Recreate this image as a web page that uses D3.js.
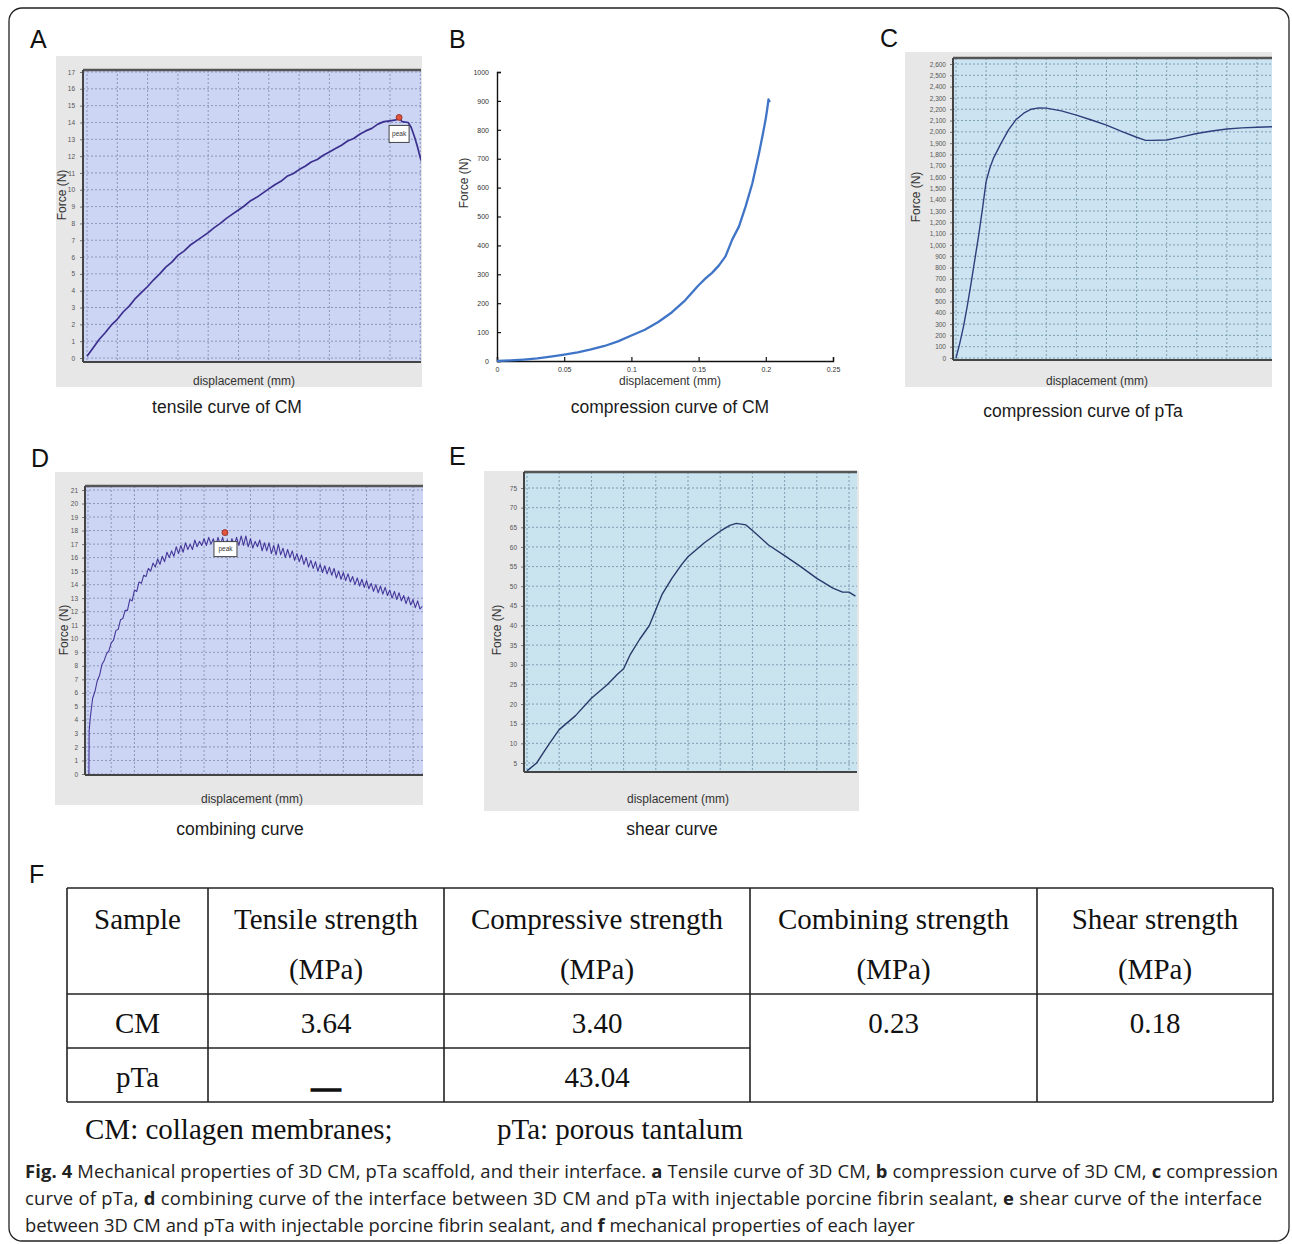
<!DOCTYPE html>
<html>
<head>
<meta charset="utf-8">
<script src="https://cdnjs.cloudflare.com/ajax/libs/d3/7.8.5/d3.min.js"></script>
<style>
  body { margin: 0; background: #fff; }
  svg { display: block; }
</style>
</head>
<body>
<svg id="fig" width="1292" height="1244"></svg>
<script>
// ---- data: [displacement (mm), force (N)] ----
var tensileCM = [[0,0.1],[0.1,0.6],[0.2,1.1],[0.3,1.5],[0.4,1.95],[0.5,2.3],[0.6,2.75],[0.7,3.1],[0.8,3.55],[0.9,3.9],
  [1.0,4.25],[1.1,4.65],[1.2,5.0],[1.3,5.4],[1.4,5.7],[1.5,6.1],[1.6,6.35],[1.7,6.7],[1.8,6.95],[1.9,7.2],
  [2.0,7.45],[2.1,7.75],[2.2,8.0],[2.3,8.3],[2.4,8.55],[2.5,8.8],[2.6,9.05],[2.7,9.35],[2.8,9.55],[2.9,9.8],
  [3.0,10.05],[3.1,10.3],[3.2,10.5],[3.3,10.8],[3.4,10.95],[3.5,11.2],[3.6,11.4],[3.7,11.65],[3.8,11.8],[3.9,12.05],
  [4.0,12.25],[4.1,12.45],[4.2,12.65],[4.3,12.9],[4.4,13.05],[4.5,13.3],[4.6,13.5],[4.7,13.65],[4.8,13.9],[4.9,14.05],
  [5.0,14.1],[5.1,14.15],[5.15,14.3],[5.2,14.05],[5.3,14.0],[5.35,13.7],[5.4,13.2],[5.45,12.6],[5.5,11.9],[5.53,11.6]];
var tensilePeak = [5.15, 14.3];

var compressionCM = [[0,0],[0.01,2],[0.02,5],[0.03,9],[0.04,15],[0.05,22],[0.06,30],[0.07,40],[0.08,52],[0.09,68],
  [0.1,88],[0.11,108],[0.12,135],[0.13,168],[0.14,210],[0.15,262],[0.155,285],[0.16,305],[0.165,330],[0.17,362],
  [0.175,420],[0.18,465],[0.185,535],[0.19,615],[0.195,720],[0.198,790],[0.2,840],[0.201,870],[0.202,905],[0.203,895]];

var compressionPTa = [[0,0],[0.025,130],[0.05,280],[0.075,460],[0.1,660],[0.125,870],[0.15,1080],[0.175,1310],
  [0.2,1560],[0.225,1680],[0.25,1770],[0.3,1900],[0.35,2020],[0.4,2110],[0.45,2165],[0.5,2200],[0.55,2212],[0.6,2210],
  [0.7,2185],[0.8,2148],[0.9,2105],[1.0,2060],[1.1,2005],[1.2,1952],[1.26,1925],[1.3,1925],[1.4,1928],[1.5,1955],
  [1.6,1985],[1.7,2008],[1.8,2025],[1.9,2035],[2.0,2040],[2.1,2045]];

var combining = [[0,0],[0.004,0],[0.005,3.2],[0.01,4.2],[0.02,5.6],[0.03,6.1],[0.04,6.9],[0.05,7.3],[0.06,8.1],[0.07,8.4],
  [0.08,8.9],[0.09,9.1],[0.10,9.7],[0.11,9.9],[0.12,10.6],[0.13,10.7],[0.14,11.4],[0.15,11.5],[0.16,12.1],[0.17,12.1],
  [0.18,12.9],[0.19,12.8],[0.20,13.6],[0.21,13.5],[0.22,14.2],[0.23,14.1],[0.24,14.7],[0.25,14.6],[0.26,15.2],[0.27,15.0],
  [0.28,15.6],[0.29,15.3],[0.30,15.9],[0.31,15.5],[0.32,16.1],[0.33,15.7],[0.34,16.4],[0.35,16.0],[0.36,16.5],[0.37,16.1],
  [0.38,16.8],[0.39,16.3],[0.40,16.9],[0.41,16.4],[0.42,17.1],[0.43,16.6],[0.44,17.0],[0.45,16.6],[0.46,17.3],[0.47,16.8],
  [0.48,17.2],[0.49,16.9],[0.50,17.4],[0.51,16.9],[0.52,17.5],[0.53,17.0],[0.54,17.4],[0.55,16.8],[0.56,17.5],[0.57,16.9],
  [0.58,17.5],[0.59,16.8],[0.60,17.3],[0.61,16.8],[0.62,17.4],[0.63,16.9],[0.64,17.5],[0.65,16.9],[0.66,17.6],[0.67,16.9],
  [0.68,17.6],[0.69,16.8],[0.70,17.4],[0.71,16.7],[0.72,17.2],[0.73,16.8],[0.74,17.3],[0.75,16.5],[0.76,17.1],[0.77,16.5],
  [0.78,17.1],[0.79,16.3],[0.80,16.9],[0.81,16.2],[0.82,17.0],[0.83,16.2],[0.84,16.7],[0.85,16.0],[0.86,16.6],[0.87,16.0],
  [0.88,16.5],[0.89,15.8],[0.90,16.3],[0.91,15.7],[0.92,16.2],[0.93,15.5],[0.94,16.0],[0.95,15.3],[0.96,15.8],[0.97,15.2],
  [0.98,15.7],[0.99,15.0],[1.00,15.5],[1.01,14.9],[1.02,15.4],[1.03,14.8],[1.04,15.3],[1.05,14.7],[1.06,15.2],[1.07,14.5],
  [1.08,15.0],[1.09,14.4],[1.10,14.9],[1.11,14.3],[1.12,14.8],[1.13,14.2],[1.14,14.6],[1.15,14.0],[1.16,14.5],[1.17,13.9],
  [1.18,14.4],[1.19,13.8],[1.20,14.3],[1.21,13.7],[1.22,14.1],[1.23,13.5],[1.24,14.0],[1.25,13.4],[1.26,13.9],[1.27,13.3],
  [1.28,13.8],[1.29,13.2],[1.30,13.6],[1.31,13.0],[1.32,13.5],[1.33,12.9],[1.34,13.4],[1.35,12.8],[1.36,13.2],[1.37,12.6],
  [1.38,13.1],[1.39,12.5],[1.40,12.9],[1.41,12.3],[1.42,12.8],[1.43,12.2],[1.44,12.4]];
var combiningPeak = [0.59, 17.85];

var shear = [[0,3],[0.03,5],[0.05,7.5],[0.07,10],[0.1,13.5],[0.15,17],[0.2,21.5],[0.25,25],[0.28,27.5],[0.3,29],
  [0.32,32.5],[0.35,36.5],[0.38,40],[0.4,44],[0.42,48],[0.45,52],[0.48,55.5],[0.5,57.5],[0.55,61],[0.6,64],
  [0.63,65.5],[0.65,66],[0.68,65.6],[0.7,64.2],[0.75,60.5],[0.8,57.8],[0.85,55],[0.9,52],[0.95,49.5],[0.98,48.5],
  [1.0,48.5],[1.02,47.5]];

// tick values
var ticksA_x = [0,0.5,1,1.5,2,2.5,3,3.5,4,4.5,5,5.5];
var ticksA_y = [0,1,2,3,4,5,6,7,8,9,10,11,12,13,14,15,16,17];
var ticksB_x = [0,0.05,0.1,0.15,0.2,0.25];
var ticksB_y = [0,100,200,300,400,500,600,700,800,900,1000];
var ticksC_x = [0,0.2,0.4,0.6,0.8,1,1.2,1.4,1.6,1.8,2];
var ticksC_y = [0,100,200,300,400,500,600,700,800,900,1000,1100,1200,1300,1400,1500,1600,1700,1800,1900,2000,2100,2200,2300,2400,2500,2600];
var ticksD_x = [0,0.1,0.2,0.3,0.4,0.5,0.6,0.7,0.8,0.9,1,1.1,1.2,1.3,1.4];
var ticksD_y = [0,1,2,3,4,5,6,7,8,9,10,11,12,13,14,15,16,17,18,19,20,21];
var ticksE_x = [0,0.1,0.2,0.3,0.4,0.5,0.6,0.7,0.8,0.9,1];
var ticksE_y = [5,10,15,20,25,30,35,40,45,50,55,60,65,70,75];

// table F
var tableHead1 = ["Sample", "Tensile strength", "Compressive strength", "Combining strength", "Shear strength"];
var tableHead2 = ["", "(MPa)", "(MPa)", "(MPa)", "(MPa)"];
var tableRowCM = ["CM", "3.64", "3.40", "0.23", "0.18"];
var tableRowPTa = ["pTa", "\u2014", "43.04", "", ""];
var tableNotes = ["CM: collagen membranes;", "pTa: porous tantalum"];

var captionLines = [
  [["Fig. 4", 1], [" Mechanical properties of 3D CM, pTa scaffold, and their interface. ", 0], ["a", 1], [" Tensile curve of 3D CM, ", 0], ["b", 1], [" compression curve of 3D CM, ", 0], ["c", 1], [" compression", 0]],
  [["curve of pTa, ", 0], ["d", 1], [" combining curve of the interface between 3D CM and pTa with injectable porcine fibrin sealant, ", 0], ["e", 1], [" shear curve of the interface", 0]],
  [["between 3D CM and pTa with injectable porcine fibrin sealant, and ", 0], ["f", 1], [" mechanical properties of each layer", 0]]
];

var SANS = "'Liberation Sans', Arial, sans-serif";
var SERIF = "'Liberation Serif', 'Times New Roman', serif";

var svg = d3.select("#fig");

// outer rounded frame
svg.append("rect").attr("x", 9).attr("y", 8).attr("width", 1280).attr("height", 1233)
  .attr("rx", 13).attr("fill", "none").attr("stroke", "#222").attr("stroke-width", 1.3);

function letter(t, x, y) {
  svg.append("text").attr("x", x).attr("y", y).text(t)
    .attr("font-family", SANS).attr("font-size", 25).attr("fill", "#111");
}
function title(t, x, y) {
  svg.append("text").attr("x", x).attr("y", y).text(t).attr("text-anchor", "middle")
    .attr("font-family", SANS).attr("font-size", 17.5).attr("fill", "#1a1a1a");
}
function axisLabels(g, fx, fy, dx, dy) {
  g.append("text").attr("transform", "translate(" + fx + "," + fy + ") rotate(-90)")
    .attr("text-anchor", "middle").attr("dy", "0.35em").text("Force (N)")
    .attr("font-family", SANS).attr("font-size", 12).attr("fill", "#333");
  g.append("text").attr("x", dx).attr("y", dy).attr("text-anchor", "middle").text("displacement (mm)")
    .attr("font-family", SANS).attr("font-size", 12).attr("fill", "#333");
}

// testing-machine style panel (A, C, D, E)
function instron(o) {
  var g = svg.append("g");
  var p = o.plot;
  g.append("clipPath").attr("id", "pc" + o.id).append("rect")
    .attr("x", p[0]).attr("y", p[1]).attr("width", p[2] - p[0]).attr("height", p[3] - p[1]);
  g.append("clipPath").attr("id", "bc" + o.id).append("rect")
    .attr("x", o.bg[0]).attr("y", o.bg[1]).attr("width", o.bg[2]).attr("height", o.bg[3]);

  g.append("rect").attr("x", o.bg[0]).attr("y", o.bg[1]).attr("width", o.bg[2]).attr("height", o.bg[3])
    .attr("fill", "#e7e7e7");
  g.append("rect").attr("x", p[0]).attr("y", p[1]).attr("width", p[2] - p[0]).attr("height", p[3] - p[1])
    .attr("fill", o.fill);

  var x = d3.scaleLinear().domain(o.xDom).range(o.xRng);
  var y = d3.scaleLinear().domain(o.yDom).range(o.yRng);

  var grid = g.append("g").attr("clip-path", "url(#pc" + o.id + ")")
    .attr("stroke", o.grid).attr("stroke-width", 1).attr("stroke-dasharray", "2,2");
  grid.selectAll(".gx").data(o.xTicks).enter().append("line")
    .attr("x1", function(d) { return x(d); }).attr("x2", function(d) { return x(d); })
    .attr("y1", p[1]).attr("y2", p[3]);
  grid.selectAll(".gy").data(o.yTicks).enter().append("line")
    .attr("y1", function(d) { return y(d); }).attr("y2", function(d) { return y(d); })
    .attr("x1", p[0]).attr("x2", p[2]);

  var ax = g.append("g").attr("transform", "translate(0," + p[3] + ")")
    .attr("clip-path", "url(#bc" + o.id + ")")
    .call(d3.axisBottom(x).tickValues(o.xTicks).tickSize(3).tickPadding(2).tickFormat(o.xFmt || String));
  var ay = g.append("g").attr("transform", "translate(" + p[0] + ",0)")
    .call(d3.axisLeft(y).tickValues(o.yTicks).tickSize(3).tickPadding(o.yPad || 4).tickFormat(o.yFmt || String));
  [ax, ay].forEach(function(a) {
    a.select(".domain").remove();
    a.attr("font-family", SANS).attr("font-size", 6.5);
    a.selectAll("text").attr("fill", "#555");
    a.selectAll("line").attr("stroke", "#777");
  });

  var line = d3.line().x(function(d) { return x(d[0]); }).y(function(d) { return y(d[1]); });
  g.append("path").datum(o.data).attr("d", line).attr("clip-path", "url(#pc" + o.id + ")")
    .attr("fill", "none").attr("stroke", o.stroke).attr("stroke-width", o.width)
    .attr("stroke-linejoin", "round");

  // frame lines
  g.append("line").attr("x1", p[0]).attr("x2", p[2]).attr("y1", p[1]).attr("y2", p[1])
    .attr("stroke", "#555").attr("stroke-width", 2.5);
  g.append("line").attr("x1", p[0]).attr("x2", p[0]).attr("y1", p[1]).attr("y2", p[3])
    .attr("stroke", "#444").attr("stroke-width", 2);
  g.append("line").attr("x1", p[0]).attr("x2", p[2]).attr("y1", p[3]).attr("y2", p[3])
    .attr("stroke", "#444").attr("stroke-width", 2);

  axisLabels(g, o.force[0], o.force[1], o.disp[0], o.disp[1]);
  return { g: g, x: x, y: y };
}

function peak(panel, pt, box) {
  var cx = panel.x(pt[0]), cy = panel.y(pt[1]);
  panel.g.append("rect").attr("x", cx + box[0]).attr("y", cy + box[1]).attr("width", box[2]).attr("height", box[3])
    .attr("fill", "#fff").attr("stroke", "#444").attr("stroke-width", 1);
  panel.g.append("text").attr("x", cx + box[0] + box[2] / 2).attr("y", cy + box[1] + box[3] / 2)
    .attr("dy", "0.35em").attr("text-anchor", "middle").text("peak")
    .attr("font-family", SANS).attr("font-size", 6.5).attr("fill", "#333");
  panel.g.append("circle").attr("cx", cx).attr("cy", cy).attr("r", 3)
    .attr("fill", "#e0533f").attr("stroke", "#8a2b22").attr("stroke-width", 0.8);
}

// ---- A ----
letter("A", 30, 48);
var pA = instron({ id: "A", bg: [56, 56, 366, 331], plot: [83, 70, 421, 362],
  xDom: [0, 5], xRng: [87, 390], yDom: [0, 17], yRng: [358, 72], yPad: 5,
  xTicks: ticksA_x, yTicks: ticksA_y, fill: "#ccd5f4", grid: "#8d97bd",
  data: tensileCM, stroke: "#3b2f8f", width: 1.7, force: [62, 195], disp: [244, 385] });
peak(pA, tensilePeak, [-10, 8, 20, 17]);
title("tensile curve of CM", 227, 413);

// ---- B ----
letter("B", 449, 48);
(function() {
  var g = svg.append("g");
  var x = d3.scaleLinear().domain([0, 0.25]).range([497, 833]);
  var y = d3.scaleLinear().domain([0, 1000]).range([361, 72]);
  var ax = g.append("g").attr("transform", "translate(0,361)")
    .call(d3.axisBottom(x).tickValues(ticksB_x).tickSize(-4).tickPadding(6).tickFormat(String));
  var ay = g.append("g").attr("transform", "translate(497,0)")
    .call(d3.axisLeft(y).tickValues(ticksB_y).tickSize(-4).tickPadding(8).tickFormat(String));
  [ax, ay].forEach(function(a) {
    a.attr("font-family", SANS).attr("font-size", 7);
    a.select(".domain").attr("stroke", "#111").attr("stroke-width", 1.4);
    a.selectAll("line").attr("stroke", "#111").attr("stroke-width", 1.2);
    a.selectAll("text").attr("fill", "#333");
  });
  var line = d3.line().x(function(d) { return x(d[0]); }).y(function(d) { return y(d[1]); });
  g.append("path").datum(compressionCM).attr("d", line).attr("fill", "none")
    .attr("stroke", "#3f74c6").attr("stroke-width", 2.3).attr("stroke-linejoin", "round");
  axisLabels(g, 464, 183, 670, 385);
})();
title("compression curve of CM", 670, 413);

// ---- C ----
letter("C", 880, 47);
instron({ id: "C", bg: [905, 52, 367, 335], plot: [953, 58, 1272, 360],
  xDom: [0, 2], xRng: [956, 1257], yDom: [0, 2600], yRng: [358, 64],
  xTicks: ticksC_x, yTicks: ticksC_y, yFmt: d3.format(","), fill: "#cce4f1", grid: "#7f9fb3",
  data: compressionPTa, stroke: "#2d3f7c", width: 1.4, force: [916, 197], disp: [1097, 385] });
title("compression curve of pTa", 1083, 417);

// ---- D ----
letter("D", 31, 467);
var pD = instron({ id: "D", bg: [55, 472, 368, 333], plot: [85, 486, 423, 775],
  xDom: [0, 1.4], xRng: [88, 413], yDom: [0, 21], yRng: [774, 490], yPad: 4,
  xTicks: ticksD_x, yTicks: ticksD_y, fill: "#ccd5f4", grid: "#8d97bd",
  data: combining, stroke: "#46379a", width: 1.1, force: [64, 630], disp: [252, 803] });
peak(pD, combiningPeak, [-11, 9, 23, 15]);
title("combining curve", 240, 835);

// ---- E ----
letter("E", 449, 465);
instron({ id: "E", bg: [484, 471, 375, 340], plot: [524, 472, 857, 772],
  xDom: [0, 1], xRng: [527, 849], yDom: [5, 75], yRng: [763, 488],
  xTicks: ticksE_x, yTicks: ticksE_y, fill: "#c9e3ef", grid: "#7f9fb3",
  data: shear, stroke: "#283a6a", width: 1.4, force: [497, 630], disp: [678, 803] });
title("shear curve", 672, 835);

// ---- F: table ----
letter("F", 29, 883);
(function() {
  var cols = [67, 208, 444, 750, 1037, 1273];
  var rows = [888, 994, 1048, 1102];
  var g = svg.append("g").attr("stroke", "#222").attr("stroke-width", 1.6);
  g.append("line").attr("x1", cols[0]).attr("x2", cols[5]).attr("y1", rows[0]).attr("y2", rows[0]);
  g.append("line").attr("x1", cols[0]).attr("x2", cols[5]).attr("y1", rows[1]).attr("y2", rows[1]);
  g.append("line").attr("x1", cols[0]).attr("x2", cols[3]).attr("y1", rows[2]).attr("y2", rows[2]);
  g.append("line").attr("x1", cols[0]).attr("x2", cols[5]).attr("y1", rows[3]).attr("y2", rows[3]);
  cols.forEach(function(c) {
    g.append("line").attr("x1", c).attr("x2", c).attr("y1", rows[0]).attr("y2", rows[3]);
  });
  var t = svg.append("g").attr("font-family", SERIF).attr("font-size", 29).attr("fill", "#111")
    .attr("text-anchor", "middle");
  function row(vals, yb) {
    vals.forEach(function(v, i) {
      if (!v) return;
      var el = t.append("text").attr("x", (cols[i] + cols[i + 1]) / 2).attr("y", yb).text(v);
      if (v === "\u2014") el.attr("font-weight", "bold").attr("y", yb + 10)
        .attr("stroke", "#111").attr("stroke-width", 1.6);
    });
  }
  row(tableHead1, 929);
  row(tableHead2, 979);
  row(tableRowCM, 1033);
  row(tableRowPTa, 1087);
  t.append("text").attr("x", 85).attr("y", 1139).attr("text-anchor", "start").text(tableNotes[0]);
  t.append("text").attr("x", 497).attr("y", 1139).attr("text-anchor", "start").text(tableNotes[1]);
})();

// ---- caption ----
(function() {
  var widths = [1253, 1237, null];
  var ys = [1178, 1205, 1232];
  var fs = 18.4;
  captionLines.forEach(function(segs, i) {
    var tx = svg.append("text").attr("x", 25).attr("y", ys[i])
      .attr("font-family", "'Open Sans', 'Noto Sans', sans-serif").attr("font-size", fs).attr("fill", "#222");
    segs.forEach(function(s) {
      tx.append("tspan").text(s[0]).attr("font-weight", s[1] ? "bold" : null);
    });
    if (widths[i]) {
      // justified lines: shrink if too long, then stretch the spacing to the measured width
      var L = tx.node().getComputedTextLength();
      if (L > widths[i]) tx.attr("font-size", fs * widths[i] / L);
      else tx.attr("textLength", widths[i]).attr("lengthAdjust", "spacing");
    }
  });
})();
</script>
</body>
</html>
